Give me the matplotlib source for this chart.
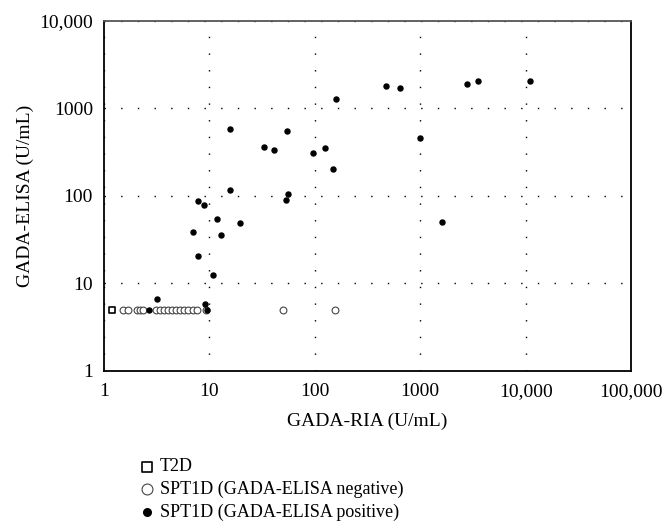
import numpy as np
import matplotlib.pyplot as plt
from matplotlib.ticker import FixedLocator, FixedFormatter, NullLocator

plt.rcParams['font.family'] = 'serif'
plt.rcParams['font.serif'] = ['Liberation Serif', 'DejaVu Serif']
plt.rcParams['font.size'] = 13

# T2D
t2d_x = [1.2]
t2d_y = [5]

# SPT1D, GADA-ELISA negative (plotted at 5 U/mL)
neg_x = [1.5, 1.7, 2.07, 2.2, 2.33, 3.12, 3.4, 3.7, 4.0, 4.4, 4.8, 5.3,
         5.75, 6.3, 7.0, 7.6, 9.3, 50, 155]
neg_y = [5] * len(neg_x)

# SPT1D, GADA-ELISA positive
pos_x = [2.67, 3.17, 9.04, 9.4, 10.8, 7.87, 7.0, 12.9, 11.9, 19.4, 7.87, 8.85,
         15.8, 15.8, 32.9, 41.4, 54.3, 97, 124, 149, 55.9, 53.8, 160, 475, 650,
         1000, 1610, 2800, 3540, 11100]
pos_y = [5, 6.7, 5.78, 5, 12.5, 20.5, 38.8, 36, 54, 48.7, 88, 78,
         116, 580, 366, 336, 550, 310, 356, 205, 105, 91, 1280, 1800, 1700,
         456, 50, 1920, 2046, 2060]

xticks = [1, 10, 100, 1000, 10000, 100000]
xlabels = ['1', '10', '100', '1000', '10,000', '100,000']
yticks = [1, 10, 100, 1000, 10000]
ylabels = ['1', '10', '100', '1000', '10,000']

fig = plt.figure(figsize=(6.67, 5.24), dpi=100)
ax = fig.add_axes([0.156, 0.292, 0.790, 0.668])

ax.scatter(t2d_x, t2d_y, marker='s', s=22, facecolors='white',
           edgecolors='black', linewidths=1.2, zorder=3, label='T2D')
ax.scatter(neg_x, neg_y, marker='o', s=24, facecolors='white',
           edgecolors='#444444', linewidths=0.8, zorder=3,
           label='SPT1D (GADA-ELISA negative)')
ax.scatter(pos_x, pos_y, marker='o', s=13, color='black', zorder=4,
           label='SPT1D (GADA-ELISA positive)')

ax.set_xscale('log')
ax.set_yscale('log')
ax.set_xlim(1, 100000)
ax.set_ylim(1, 10000)
ax.xaxis.set_major_locator(FixedLocator(xticks))
ax.xaxis.set_major_formatter(FixedFormatter(xlabels))
ax.yaxis.set_major_locator(FixedLocator(yticks))
ax.yaxis.set_major_formatter(FixedFormatter(ylabels))
ax.xaxis.set_minor_locator(NullLocator())
ax.yaxis.set_minor_locator(NullLocator())
ax.tick_params(length=0, labelsize=14, pad=8)
ax.tick_params(axis='x', pad=9)

ax.grid(True, color='black', linestyle=(0, (1, 11)), linewidth=1.0)
for sp in ax.spines.values():
    sp.set_linewidth(1.3)
    sp.set_color('black')
ax.spines['top'].set_color('#555555')

ax.set_xlabel('GADA-RIA (U/mL)', fontsize=14, labelpad=9)
ax.set_ylabel('GADA-ELISA (U/mL)', fontsize=14, labelpad=4)

leg = fig.legend(loc='upper left', bbox_to_anchor=(0.196, 0.139), frameon=False,
                 fontsize=13, handletextpad=0.2, labelspacing=0.3,
                 markerscale=1.6, borderaxespad=0, handlelength=1.0)
leg.legend_handles[2].set_sizes([30])

fig.savefig('out.png', dpi=100)
